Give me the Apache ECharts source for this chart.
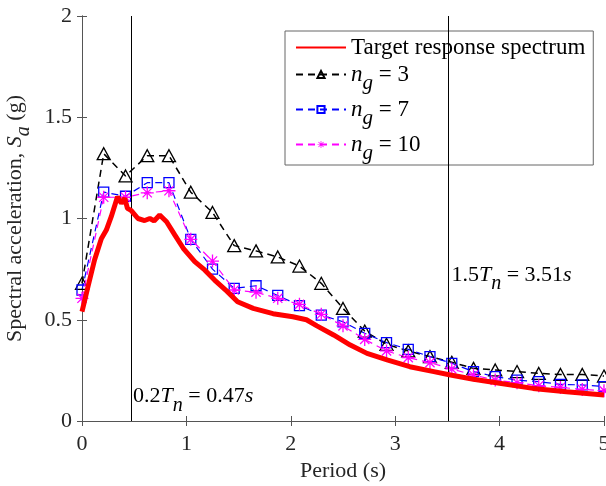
<!DOCTYPE html>
<html>
<head>
<meta charset="utf-8">
<script src="https://cdn.jsdelivr.net/npm/echarts@6/dist/echarts.min.js"></script>
<style>
html, body { margin: 0; padding: 0; background: #fff; }
#chart { width: 606px; height: 486px; }
</style>
</head>
<body>
<div id="chart"></div>
<script>
// period of the sampled points (s)
var period = [0, 0.208, 0.417, 0.625, 0.833, 1.042, 1.25, 1.458, 1.667, 1.875, 2.083, 2.292, 2.5,
    2.708, 2.917, 3.125, 3.333, 3.542, 3.75, 3.958, 4.167, 4.375, 4.583, 4.792, 5];
var sa_ng3 = [0.68, 1.32, 1.21, 1.31, 1.31, 1.13, 1.03, 0.866, 0.84, 0.81, 0.765, 0.68, 0.556,
    0.444, 0.379, 0.346, 0.318, 0.29, 0.26, 0.252, 0.244, 0.235, 0.23, 0.23, 0.222];
var sa_ng7 = [0.647, 1.13, 1.11, 1.177, 1.177, 0.897, 0.75, 0.655, 0.668, 0.62, 0.57, 0.523, 0.49,
    0.433, 0.387, 0.354, 0.318, 0.285, 0.244, 0.219, 0.202, 0.194, 0.181, 0.178, 0.17];
var sa_ng10 = [0.606, 1.105, 1.105, 1.127, 1.137, 0.897, 0.79, 0.647, 0.636, 0.606, 0.576, 0.527, 0.47,
    0.403, 0.346, 0.313, 0.288, 0.257, 0.227, 0.202, 0.189, 0.174, 0.166, 0.156, 0.15];

// target response spectrum
var target_T = [0, 0.057, 0.12, 0.185, 0.233, 0.28, 0.34, 0.377, 0.41, 0.435, 0.47, 0.536, 0.6, 0.65,
    0.69, 0.744, 0.81, 0.89, 0.97, 1.08, 1.175, 1.27, 1.39, 1.49, 1.64, 1.83, 2.02, 2.15, 2.25, 2.41,
    2.57, 2.73, 2.93, 3.14, 3.37, 3.53, 3.75, 4.0, 4.32, 4.64, 5.0];
var target_Sa = [0.54, 0.663, 0.795, 0.9, 0.943, 1.009, 1.108, 1.075, 1.1, 1.05, 1.04, 1.0, 0.99, 1.0,
    0.988, 1.017, 0.984, 0.918, 0.853, 0.787, 0.746, 0.696, 0.64, 0.589, 0.556, 0.53, 0.515, 0.5, 0.47, 0.425,
    0.375, 0.334, 0.301, 0.268, 0.244, 0.227, 0.206, 0.186, 0.161, 0.145, 0.128];

// reference periods
var t_02Tn = 0.47;
var t_15Tn = 3.51;

var FONT = 'Liberation Serif';
var TXT = '#262626';

function pairs(xs, ys) {
    return xs.map(function (x, i) { return [x, ys[i]]; });
}

// asterisk marker like matlab '*'
var STAR = 'path://M9 0h2v20h-2zM0 9h20v2h-20zM2.2 3.6L3.6 2.2L17.8 16.4L16.4 17.8zM16.4 2.2L17.8 3.6L3.6 17.8L2.2 16.4z';

var rich = {
    i: { fontFamily: FONT, fontSize: 23, fontStyle: 'italic', color: '#000' },
    sub: { fontFamily: FONT, fontSize: 21, fontStyle: 'italic', color: '#000', padding: [18, 0, 0, 0] },
    t: { fontFamily: FONT, fontSize: 23, color: '#000' }
};

var series = [];
series.push({
    name: 'Target response spectrum',
    type: 'line',
    data: pairs(target_T, target_Sa),
    showSymbol: false,
    symbol: 'none',
    lineStyle: { width: 5, color: '#ff0000' },
    itemStyle: { color: '#ff0000' },
    z: 5,
    markLine: {
        silent: true,
        symbol: 'none',
        label: { show: false },
        lineStyle: { color: '#000', width: 1, type: 'solid' },
        data: [{ xAxis: t_02Tn }, { xAxis: t_15Tn }]
    }
});
series.push({
    name: 'ng = 3',
    type: 'line',
    data: pairs(period, sa_ng3),
    symbol: 'triangle',
    symbolSize: [13, 12],
    lineStyle: { width: 1.5, color: '#000', type: [7, 5] },
    itemStyle: { color: 'rgba(255,255,255,0)', borderColor: '#000', borderWidth: 1.3 },
    z: 3
});
series.push({
    name: 'ng = 7',
    type: 'line',
    data: pairs(period, sa_ng7),
    symbol: 'rect',
    symbolSize: 10,
    lineStyle: { width: 1.2, color: '#0000ff', type: [7, 5] },
    itemStyle: { color: 'rgba(255,255,255,0)', borderColor: '#0000ff', borderWidth: 1.3 },
    z: 3
});
series.push({
    name: 'ng = 10',
    type: 'line',
    data: pairs(period, sa_ng10),
    symbol: STAR,
    symbolSize: 13,
    lineStyle: { width: 1.2, color: '#ff00ff', type: [7, 5] },
    itemStyle: { color: '#ff00ff' },
    z: 4
});

var axisLineStyle = { color: '#555', width: 1 };

var option = {
    animation: false,
    grid: { left: 82, right: 2, top: 16, bottom: 65, containLabel: false, outerBoundsMode: 'none' },
    legend: {
        orient: 'vertical',
        left: 285,
        top: 31,
        itemWidth: 50,
        itemHeight: 9,
        itemGap: 4,
        padding: [5, 8, 1, 10],
        backgroundColor: '#fff',
        borderColor: '#666',
        borderWidth: 1,
        data: [
            { name: 'Target response spectrum', itemStyle: { opacity: 0 } },
            'ng = 3', 'ng = 7', 'ng = 10'
        ],
        formatter: function (name) {
            if (name.indexOf('ng') === 0) {
                return '{i|n}{sub|g}{t|' + name.substring(2) + '}';
            }
            return '{t|' + name + '}';
        },
        textStyle: { fontFamily: FONT, fontSize: 23, color: '#000', rich: rich }
    },
    xAxis: [{
        type: 'value',
        min: 0, max: 5, interval: 1,
        name: 'Period (s)',
        nameLocation: 'middle',
        nameGap: 36,
        nameTextStyle: { fontFamily: FONT, fontSize: 22, color: TXT },
        axisLine: { show: true, lineStyle: axisLineStyle },
        axisTick: { inside: true, length: 5, lineStyle: axisLineStyle },
        axisLabel: { fontFamily: FONT, fontSize: 22, color: TXT, margin: 12 },
        splitLine: { show: false }
    }, {
        type: 'value',
        position: 'top',
        min: 0, max: 5, interval: 1,
        axisLine: { show: true, lineStyle: axisLineStyle },
        axisTick: { inside: true, length: 5, lineStyle: axisLineStyle },
        axisLabel: { show: false },
        splitLine: { show: false }
    }],
    yAxis: [{
        type: 'value',
        min: 0, max: 2, interval: 0.5,
        name: 'Spectral acceleration, {i|S}{sub|a}{t| (g)}',
        nameLocation: 'middle',
        nameGap: 46,
        nameTextStyle: {
            fontFamily: FONT, fontSize: 22, color: TXT,
            rich: {
                i: { fontFamily: FONT, fontSize: 22, fontStyle: 'italic', color: TXT },
                sub: { fontFamily: FONT, fontSize: 20, fontStyle: 'italic', color: TXT, padding: [16, 0, 0, 0] },
                t: { fontFamily: FONT, fontSize: 22, color: TXT }
            }
        },
        axisLine: { show: true, lineStyle: axisLineStyle },
        axisTick: { inside: true, length: 5, lineStyle: axisLineStyle },
        axisLabel: { fontFamily: FONT, fontSize: 22, color: TXT, margin: 10 },
        splitLine: { show: false }
    }, {
        type: 'value',
        position: 'right',
        min: 0, max: 2, interval: 0.5,
        axisLine: { show: true, lineStyle: axisLineStyle },
        axisTick: { inside: true, length: 5, lineStyle: axisLineStyle },
        axisLabel: { show: false },
        splitLine: { show: false }
    }],
    series: series
};

var chart = echarts.init(document.getElementById('chart'));
chart.setOption(option);

// annotations next to the reference lines
var annRich = {
    t: { fontFamily: FONT, fontSize: 22, color: TXT },
    i: { fontFamily: FONT, fontSize: 22, fontStyle: 'italic', color: TXT },
    sub: { fontFamily: FONT, fontSize: 20, fontStyle: 'italic', color: TXT, padding: [18, 0, 0, 0] }
};
var p1 = chart.convertToPixel({ gridIndex: 0 }, [t_02Tn, 0.12]);
var p2 = chart.convertToPixel({ gridIndex: 0 }, [t_15Tn, 0.72]);
chart.setOption({
    graphic: [{
        type: 'text',
        x: p1[0] + 2, y: p1[1],
        style: {
            text: '{t|0.2}{i|T}{sub|n}{t| = 0.47}{i|s}',
            rich: annRich,
            verticalAlign: 'middle'
        }
    }, {
        type: 'text',
        x: p2[0] + 3, y: p2[1],
        style: {
            text: '{t|1.5}{i|T}{sub|n}{t| = 3.51}{i|s}',
            rich: annRich,
            verticalAlign: 'middle'
        }
    }]
});
</script>
</body>
</html>
